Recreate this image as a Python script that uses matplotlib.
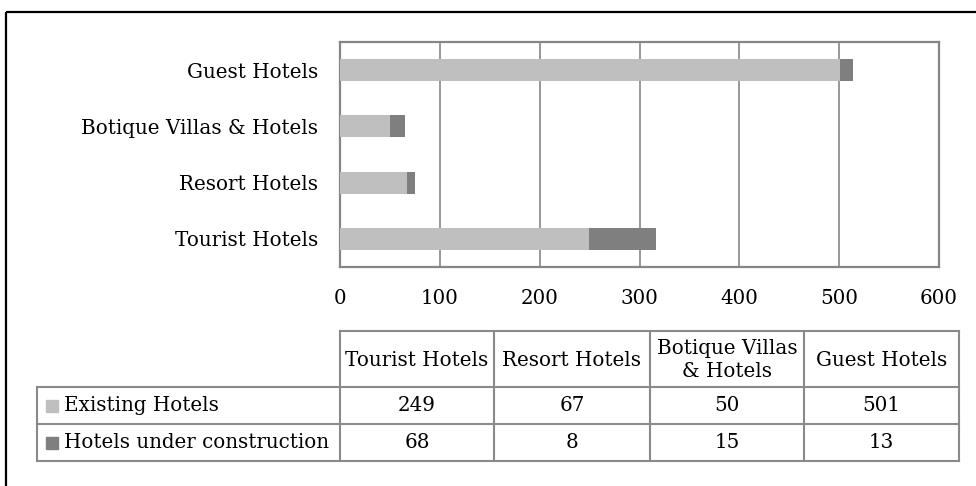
import matplotlib
matplotlib.use("Agg")
import matplotlib.pyplot as plt
import numpy as np

categories = ["Tourist Hotels", "Resort Hotels", "Botique Villas & Hotels", "Guest Hotels"]
table_headers = ["Tourist Hotels", "Resort Hotels", "Botique Villas\n& Hotels", "Guest Hotels"]
series_names = ["Existing Hotels", "Hotels under construction"]
existing = [249, 67, 50, 501]
under_construction = [68, 8, 15, 13]
x_ticks = [0, 100, 200, 300, 400, 500, 600]

c_exist = "#BFBFBF"
c_const = "#7F7F7F"
grid_c = "#868686"
FONT = "DejaVu Serif"
FS = 14.3

W, H = 976, 486
fig = plt.figure(figsize=(W / 100, H / 100), dpi=100)

# overlay axes in pixel coordinates for frame and table
ov = fig.add_axes([0, 0, 1, 1])
ov.set_xlim(0, W)
ov.set_ylim(H, 0)
ov.axis("off")
# outer chart frame (only top and left visible)
ov.plot([6, W + 5], [12.5, 12.5], color="black", lw=1.6, solid_capstyle="butt")
ov.plot([6, 6], [12, H + 5], color="black", lw=1.6, solid_capstyle="butt")

# main bar axes
left, right, top, bottom = 340, 939, 42, 267
ax = fig.add_axes([left / W, 1 - bottom / H, (right - left) / W, (bottom - top) / H])
y = np.arange(len(categories))
ax.barh(y, existing, height=0.39, color=c_exist, zorder=3)
ax.barh(y, under_construction, left=existing, height=0.39, color=c_const, zorder=3)
ax.set_xlim(0, 600)
ax.set_ylim(-0.5, len(categories) - 0.5)
ax.set_xticks(x_ticks)
ax.set_xticklabels([str(v) for v in x_ticks], fontfamily=FONT, fontsize=FS)
ax.set_yticks(y)
ax.set_yticklabels(categories, fontfamily=FONT, fontsize=FS)
ax.tick_params(axis="x", length=0, pad=16)
ax.tick_params(axis="y", length=0, pad=16)
ax.grid(axis="x", color=grid_c, lw=1.2, zorder=0)
for s in ax.spines.values():
    s.set_color(grid_c)
    s.set_linewidth(1.6)

# data table
tc = "#8A8A8A"
lw = 1.5
col_x = [340, 494, 650, 804, 959]
label_x0 = 37
row_y = [331, 387, 424, 461]
# horizontal lines
ov.plot([col_x[0], col_x[-1]], [row_y[0]] * 2, color=tc, lw=lw, zorder=2)
for yy in row_y[1:]:
    ov.plot([label_x0, col_x[-1]], [yy] * 2, color=tc, lw=lw, zorder=2)
# vertical lines
for xx in col_x:
    ov.plot([xx, xx], [row_y[0], row_y[-1]], color=tc, lw=lw, zorder=2)
ov.plot([label_x0, label_x0], [row_y[1], row_y[-1]], color=tc, lw=lw, zorder=2)

for i, hdr in enumerate(table_headers):
    cx = (col_x[i] + col_x[i + 1]) / 2
    cy = (row_y[0] + row_y[1]) / 2
    ov.text(cx, cy + 1, hdr, ha="center", va="center", fontfamily=FONT,
            fontsize=FS, linespacing=1.25)

rows = [existing, under_construction]
colors = [c_exist, c_const]
for r, (name, vals, col) in enumerate(zip(series_names, rows, colors)):
    cy = (row_y[r + 1] + row_y[r + 2]) / 2
    ov.add_patch(plt.Rectangle((46, cy - 6), 12, 12, color=col, zorder=3))
    ov.text(64, cy, name, ha="left", va="center", fontfamily=FONT, fontsize=FS)
    for i, v in enumerate(vals):
        cx = (col_x[i] + col_x[i + 1]) / 2
        ov.text(cx, cy, str(v), ha="center", va="center", fontfamily=FONT, fontsize=FS)

fig.savefig("out.png", dpi=100)
